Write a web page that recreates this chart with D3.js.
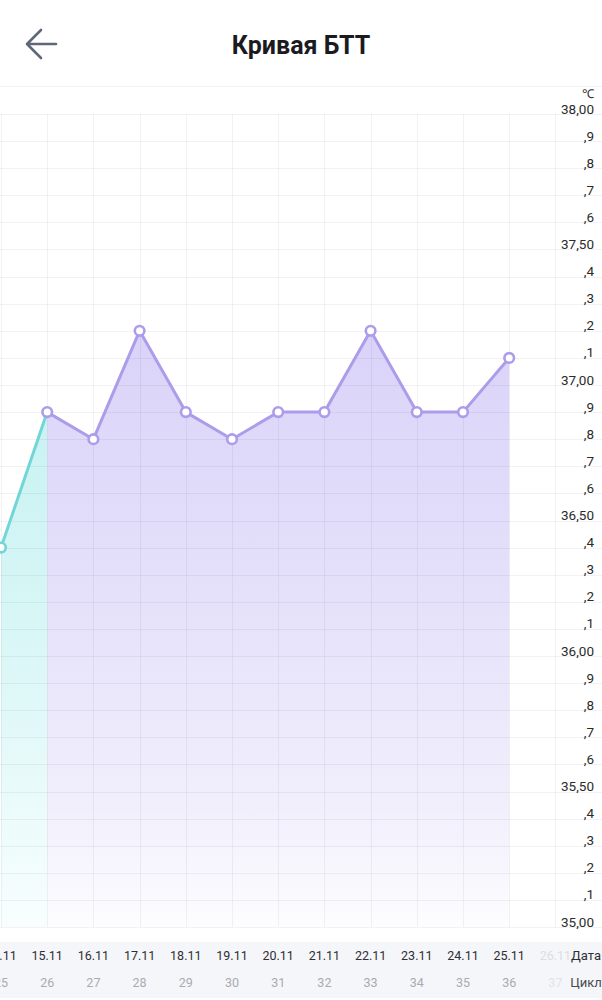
<!DOCTYPE html>
<html>
<head>
<meta charset="utf-8">
<script src="https://cdn.jsdelivr.net/npm/d3@7"></script>
<style>
  html, body { margin: 0; padding: 0; background: #fff; }
  svg { display: block; font-family: Roboto, "Noto Sans", sans-serif; }
</style>
</head>
<body>
<svg id="chart" width="602" height="1000"></svg>
<script>
const dates = ["14.11","15.11","16.11","17.11","18.11","19.11","20.11","21.11","22.11","23.11","24.11","25.11","26.11"];
const cycleDays = [25,26,27,28,29,30,31,32,33,34,35,36,37];
const temps = [36.4,36.9,36.8,37.2,36.9,36.8,36.9,36.9,37.2,36.9,36.9,37.1,null];
const phase = ["teal","purple","purple","purple","purple","purple","purple","purple","purple","purple","purple","purple",null];
const yTicks = d3.range(350, 381).map(v => v / 10);

const svg = d3.select("#chart");
const W = 602;

const x = d3.scaleLinear().domain([0, dates.length - 1]).range([1, 555.4]);
const y = d3.scaleLinear().domain([35, 38]).range([927, 114]);

const defs = svg.append("defs");
const gp = defs.append("linearGradient").attr("id","gp").attr("gradientUnits","userSpaceOnUse")
  .attr("x1",0).attr("x2",0).attr("y1",y(37.2)).attr("y2",y(35));
gp.append("stop").attr("offset",0).attr("stop-color","#dad3f9");
gp.append("stop").attr("offset",0.45).attr("stop-color","#e5e1fa");
gp.append("stop").attr("offset",0.8).attr("stop-color","#f1effc");
gp.append("stop").attr("offset",1).attr("stop-color","#fdfdff");
const gt = defs.append("linearGradient").attr("id","gt").attr("gradientUnits","userSpaceOnUse")
  .attr("x1",0).attr("x2",0).attr("y1",y(36.9)).attr("y2",y(35));
gt.append("stop").attr("offset",0).attr("stop-color","#c9f2f2");
gt.append("stop").attr("offset",0.5).attr("stop-color","#dcf7f7");
gt.append("stop").attr("offset",1).attr("stop-color","#f8fefe");

// Header
svg.append("path").attr("d","M56,44 H27 M41,30 L27,44 L41,58")
  .attr("fill","none").attr("stroke","#5d6878").attr("stroke-width",2.6)
  .attr("stroke-linecap","round").attr("stroke-linejoin","round");
svg.append("text").attr("x",301).attr("y",54).attr("text-anchor","middle")
  .attr("font-size",25).attr("font-weight","bold").attr("fill","#1b1b1f").text("Кривая БТТ");
svg.append("line").attr("x1",0).attr("x2",W).attr("y1",86.5).attr("y2",86.5)
  .attr("stroke","#f2f2f4");

// Areas
const pts = temps.map((t,i)=>({i,t,p:phase[i]})).filter(d=>d.t!=null);
const purple = pts.filter(d=>d.p==="purple");
const teal = pts.filter((d,k)=>d.p==="teal" || (k>0 && pts[k-1].p==="teal"));
const area = d3.area().x(d=>x(d.i)).y0(y(35)).y1(d=>y(d.t));
const line = d3.line().x(d=>x(d.i)).y(d=>y(d.t));
svg.append("path").datum(teal).attr("d",area).attr("fill","url(#gt)");
svg.append("path").datum(purple).attr("d",area).attr("fill","url(#gp)");

// Grid
const grid = svg.append("g");
grid.selectAll("line.h").data(yTicks).join("line")
  .attr("x1",0).attr("x2",W).attr("y1",d=>Math.round(y(d))+0.5).attr("y2",d=>Math.round(y(d))+0.5)
  .attr("stroke","rgba(60,60,90,0.065)");
grid.selectAll("line.v").data(dates.map((d,i)=>i)).join("line")
  .attr("x1",d=>Math.round(x(d))+0.5).attr("x2",d=>Math.round(x(d))+0.5)
  .attr("y1",y(38)).attr("y2",y(35))
  .attr("stroke","rgba(60,60,90,0.065)");

// Y labels
svg.selectAll("text.yl").data(yTicks).join("text")
  .attr("x",594).attr("y",d=>y(d)-0.5).attr("text-anchor","end")
  .attr("font-size",13.5).attr("fill","#2b2b2b")
  .text(d=>{
    const r = Math.round(d*10);
    if (r % 5 === 0) return d.toFixed(2).replace(".",",");
    return "," + (r % 10);
  });
svg.append("text").attr("x",594).attr("y",98).attr("text-anchor","end")
  .attr("font-size",12).attr("fill","#2b2b2b").text("℃");

// Lines
svg.append("path").datum(teal).attr("d",line).attr("fill","none")
  .attr("stroke","#72d6d6").attr("stroke-width",3).attr("stroke-linejoin","round");
svg.append("path").datum(purple).attr("d",line).attr("fill","none")
  .attr("stroke","#ad9ce9").attr("stroke-width",3).attr("stroke-linejoin","round");

// Markers
svg.selectAll("circle.m").data(pts).join("circle")
  .attr("cx",d=>x(d.i)).attr("cy",d=>y(d.t)).attr("r",4.8)
  .attr("fill","#fff").attr("stroke",d=>d.p==="teal"?"#72d6d6":"#ad9ce9").attr("stroke-width",2.6);

// Bottom band
svg.append("rect").attr("x",0).attr("y",942).attr("width",W).attr("height",56).attr("fill","#f5f6f9");
svg.selectAll("text.d").data(dates).join("text")
  .attr("x",(d,i)=>x(i)).attr("y",960).attr("text-anchor","middle").attr("font-size",12.5)
  .attr("fill",(d,i)=>temps[i]==null?"#dcdde2":"#2e2e33").text(d=>d);
svg.selectAll("text.c").data(cycleDays).join("text")
  .attr("x",(d,i)=>x(i)).attr("y",987).attr("text-anchor","middle").attr("font-size",12.5)
  .attr("fill",(d,i)=>temps[i]==null?"#e2e3e8":"#a9abb1").text(d=>d);
svg.append("text").attr("x",586).attr("y",960).attr("text-anchor","middle").attr("font-size",13)
  .attr("fill","#2e2e33").text("Дата");
svg.append("text").attr("x",586).attr("y",987).attr("text-anchor","middle").attr("font-size",13)
  .attr("fill","#4a4a50").text("Цикл");
</script>
</body>
</html>
